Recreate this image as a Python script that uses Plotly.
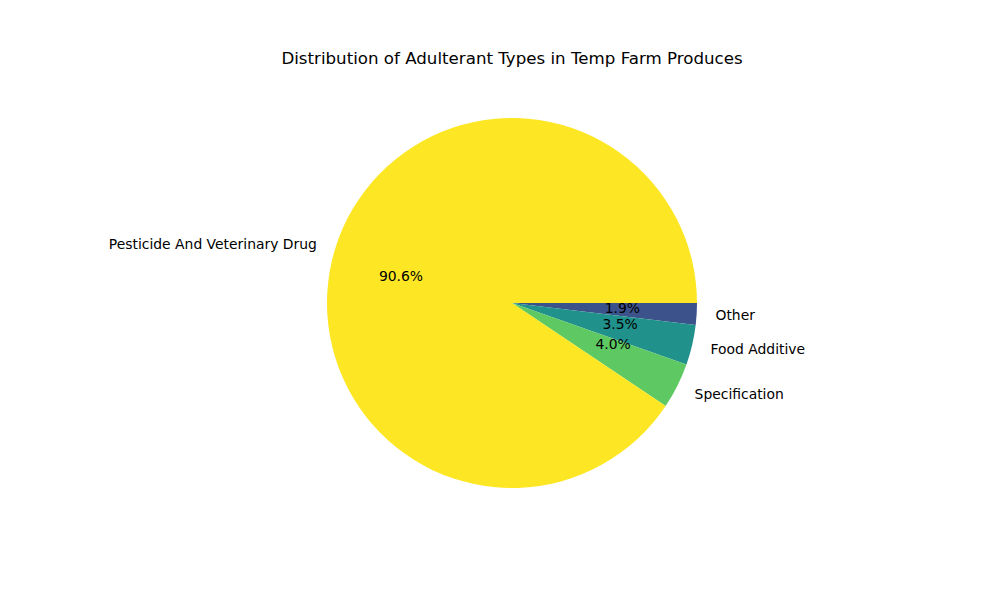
import plotly.graph_objects as go

# listed in drawing order (clockwise from 3 o'clock)
labels = ["Other", "Food Additive", "Specification", "Pesticide And Veterinary Drug"]
shares = [1.9, 3.5, 4.0, 90.6]
colors = ["#3b528b", "#21918c", "#5ec962", "#fde725"]

# pie centre and size in paper units (page has an 8px body margin)
cx, cy = 0.504, 0.5083
half_w, half_h = 0.185, 0.30835


def ring_domain(scale):
    return dict(x=[cx - half_w * scale, cx + half_w * scale],
                y=[cy - half_h * scale, cy + half_h * scale])


def pie_trace(scale, fill, **kw):
    return go.Pie(
        labels=labels,
        values=shares,
        sort=False,
        direction="clockwise",
        rotation=90,
        marker_colors=fill,
        marker_line_width=0,
        textfont=dict(color="black", size=13.9),
        automargin=False,
        domain=ring_domain(scale),
        showlegend=False,
        **kw,
    )


clear = ["rgba(0,0,0,0)"] * len(labels)
pct = "%{percent:.1%}"

fig = go.Figure()

# the visible wedges
fig.add_trace(pie_trace(1.0, colors, textinfo="none", hoverinfo="label+percent"))

# transparent inner copies: percentages sit just outside them, i.e. inside the wedges.
# neighbouring small slices go on separate copies so plotly never nudges them apart.
second_copy = [False, True, False, False]
for use_second in (False, True):
    tpl = [pct if flag == use_second else "" for flag in second_copy]
    fig.add_trace(pie_trace(0.48, clear, texttemplate=tpl, textinfo="none",
                            textposition="outside", hoverinfo="skip"))

# transparent outer copy: category names a little beyond the rim
fig.add_trace(pie_trace(1.08, clear, textinfo="label",
                        textposition="outside", hoverinfo="skip"))

fig.update_layout(
    width=1000,
    height=600,
    margin=dict(l=0, r=0, t=0, b=0),
    paper_bgcolor="white",
    plot_bgcolor="white",
    font=dict(family="DejaVu Sans", color="black"),
    title=dict(text="Distribution of Adulterant Types in Temp Farm Produces",
               x=0.504, xanchor="center", y=0.917, yanchor="middle",
               font=dict(size=16.67)),
)

fig.write_html("out.html")
